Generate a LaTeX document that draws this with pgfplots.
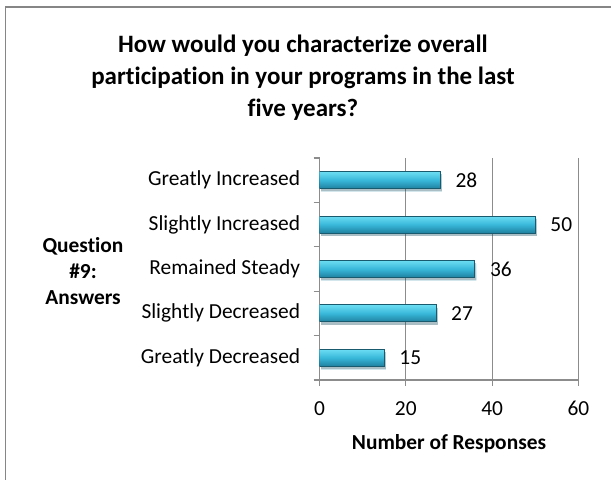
\documentclass[border=0pt]{standalone}
\usepackage{pgfplots}
\pgfplotsset{compat=1.18}
\usepackage{fontspec}
\setmainfont[Ligatures=NoCommon]{Carlito}
\definecolor{framegray}{HTML}{868686}
\definecolor{gridgray}{HTML}{8C8C8C}
\definecolor{barline}{HTML}{1A5A6E}
\definecolor{bartop}{HTML}{6CDDF3}
\definecolor{barmid}{HTML}{38B7D9}
\definecolor{barbot}{HTML}{1F809F}
\begin{document}
\fontsize{10.7}{12.8}\selectfont
\begin{tikzpicture}
% picture is 611x480 px, 1px = 0.5pt, origin at top left
\useasboundingbox (0,0) rectangle (305.5pt,-240pt);
\draw[framegray, line width=0.8pt] (2.75pt,-3.6pt) rectangle (320pt,-260pt);

% title
\begin{scope}[font=\bfseries\fontsize{12.5}{15}\selectfont]
\node[anchor=base] at (151.5pt,-26.5pt) {How would you characterize overall};
\node[anchor=base] at (151.5pt,-42.5pt) {participation in your programs in the last};
\node[anchor=base] at (151.5pt,-58.5pt) {five years?};
\end{scope}

% y axis title
\node[align=center, font=\bfseries, execute at begin node={\setlength{\baselineskip}{13pt}}]
  at (41.5pt,-135.5pt) {Question\\\#9:\\Answers};

\begin{axis}[
    at={(159.75pt,-190pt)}, anchor=south west,
    scale only axis,
    width=129.5pt, height=111pt,
    xbar, bar width=8.5pt, bar shift=0pt,
    xmin=0, xmax=60,
    ymin=0.5, ymax=5.5,
    y dir=reverse,
    xtick={0,20,40,60},
    ytick={1,2,3,4,5},
    yticklabels={Greatly Increased, Slightly Increased, Remained Steady, Slightly Decreased\ , Greatly Decreased},
    minor ytick={0.5,1.5,2.5,3.5,4.5,5.5},
    major tick length=3pt,
    minor tick length=3pt,
    y tick style={draw=none},
    minor y tick style={draw=gridgray, line width=0.6pt},
    x tick style={draw=gridgray, line width=0.6pt},
    tick align=outside,
    axis x line*=bottom,
    axis y line*=left,
    axis line style={draw=gridgray, line width=0.8pt, -},
    xmajorgrids,
    major grid style={draw=gridgray, line width=0.6pt},
    /pgf/number format/assume math mode=true,
    yticklabel style={anchor=east, inner sep=0pt, xshift=-6.5pt},
    xticklabel style={anchor=north, inner sep=0pt, yshift=-7.5pt},
    xlabel={Number of Responses},
    xlabel style={font=\bfseries, at={(axis description cs:0.5,0)}, anchor=base, yshift=-35pt},
    nodes near coords,
    every node near coord/.append style={anchor=center, xshift=13pt, text=black},
    barstyle/.style={draw=barline, line width=0.5pt, top color=bartop, bottom color=barbot, middle color=barmid,
        preaction={fill=black, fill opacity=0.2, draw=none, transform canvas={xshift=0.8pt, yshift=-1.4pt}}},
]
% one plot per bar, so that each bar gets its own shading
\addplot[barstyle] coordinates {(28,1)};
\addplot[barstyle] coordinates {(50,2)};
\addplot[barstyle] coordinates {(36,3)};
\addplot[barstyle] coordinates {(27,4)};
\addplot[barstyle] coordinates {(15,5)};
\end{axis}
\end{tikzpicture}
\end{document}
